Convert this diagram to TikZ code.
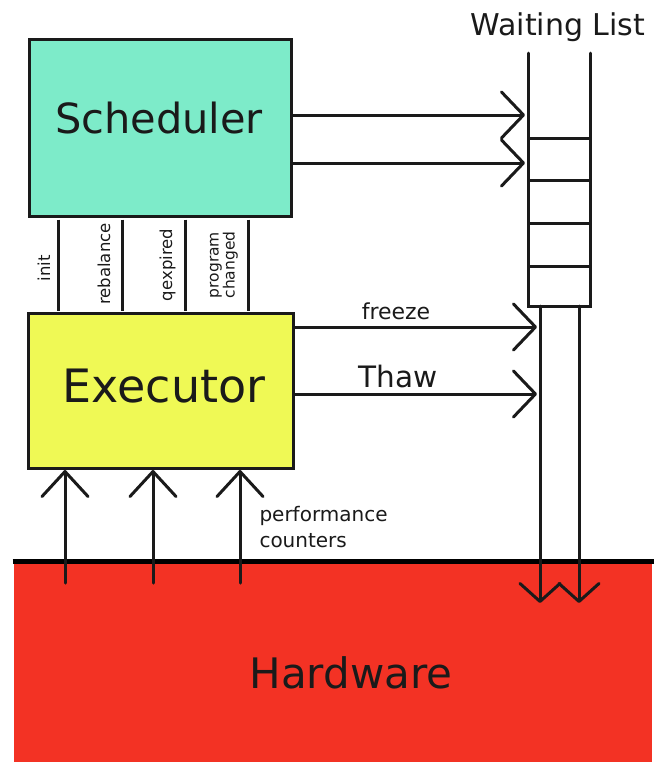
\documentclass[tikz,border=0pt]{standalone}
\usepackage{fontspec}
\setmainfont{DejaVu Sans}
\usetikzlibrary{arrows.meta}
\definecolor{schedc}{HTML}{7DEBC9}
\definecolor{execc}{HTML}{EFF955}
\definecolor{hwc}{HTML}{F33224}
\definecolor{inkc}{HTML}{1A1A1A}
\begin{document}
\begin{tikzpicture}[x=1pt,y=-1pt,line width=3pt,draw=inkc,
  box/.style={draw=inkc,line width=3pt,rectangle,inner sep=0pt},
  lbl/.style={inner sep=0pt,anchor=base,text=inkc},
  rlbl/.style={inner sep=0pt,anchor=base,rotate=90,text=inkc,font=\fontsize{16.5}{18}\selectfont},
  wire/.style={draw=inkc,line width=3pt},
  harrow/.style={wire,line cap=round,-{Straight Barb[length=22pt,width=46pt,round]}},
  uarrow/.style={wire,line cap=round,-{Straight Barb[length=25pt,width=46pt,round]}},
  darrow/.style={wire,line cap=round,-{Straight Barb[length=18pt,width=40pt,round]}}]
\useasboundingbox (0,0) rectangle (661,780);

% Hardware
\node[fill=hwc,inner sep=0pt,minimum width=638pt,minimum height=199pt] (hw) at (333,662.5) {};
\draw[line width=5pt,draw=black] (hw.north west) -- (hw.north east);
\node[lbl,font=\fontsize{42}{42}\selectfont] (hwt) at (351,688) {Hardware};

% named coordinates
\coordinate (c1) at (58,0);
\coordinate (c2) at (122,0);
\coordinate (c3) at (185,0);
\coordinate (c4) at (248,0);
\coordinate (u1) at (65,583);
\coordinate (u2) at (153,583);
\coordinate (u3) at (240,583);
\coordinate (ladL) at (528,53);
\coordinate (ladR) at (590,53);
\coordinate (ladB) at (528,306);
\coordinate (dl) at (540,306);
\coordinate (dr) at (579,306);
\coordinate (dend) at (0,603);
\coordinate (ys1) at (0,115);
\coordinate (ys2) at (0,163);
\coordinate (ye1) at (0,327);
\coordinate (ye2) at (0,394);

% boxes
\node[box,fill=schedc,minimum width=262pt,minimum height=177pt] (sched) at (160,128) {};
\node[box,fill=execc,minimum width=265pt,minimum height=155pt] (exec) at (161,391) {};
\node[lbl,font=\fontsize{41.5}{42}\selectfont] (schedt) at (159,133) {Scheduler};
\node[lbl,font=\fontsize{46}{46}\selectfont] (exect) at (164,402) {Executor};

% vertical signal lines between boxes
\foreach \c in {c1,c2,c3,c4}
  \draw[wire] ([yshift=-1.5pt]sched.south -| \c) -- ([yshift=1.5pt]exec.north -| \c);
\node[rlbl] (linit) at (50,268) {init};
\node[rlbl] (lreb) at (110,264) {rebalance};
\node[rlbl] (lqexp) at (172,265) {qexpired};
\node[inner sep=0pt,rotate=90,text=inkc,align=center,font=\fontsize{15.5}{16}\selectfont] (lprog) at (224,265) {program\\changed};

% waiting list ladder
\node[lbl,font=\fontsize{30}{30}\selectfont] (wlt) at (558,35) {Waiting List};
\draw[wire,line cap=round] (ladL) -- (ladL |- ladB) -- (ladR |- ladB) -- (ladR);
\foreach \y in {138,180,223,266}
  \draw[wire] (528,\y) -- (590,\y);

% scheduler arrows into waiting list
\draw[harrow,shorten >=3pt] (sched.east |- ys1) -- (ladL |- ys1);
\draw[harrow,shorten >=3pt] (sched.east |- ys2) -- (ladL |- ys2);

% executor arrows
\draw[harrow,shorten >=3pt] (exec.east |- ye1) -- (dl |- ye1);
\draw[harrow,shorten >=3pt] (exec.east |- ye2) -- (dl |- ye2);
\node[lbl,font=\fontsize{22}{22}\selectfont] (lfreeze) at (396,319) {freeze};
\node[lbl,font=\fontsize{29.5}{30}\selectfont] (lthaw) at (398,387) {Thaw};

% down arrows into hardware
\draw[darrow] (dl) -- (dl |- dend);
\draw[darrow] (dr) -- (dr |- dend);

% performance counter arrows
\draw[uarrow] (u1) -- (u1 |- exec.south);
\draw[uarrow] (u2) -- (u2 |- exec.south);
\draw[uarrow] (u3) -- (u3 |- exec.south);
\node[inner sep=0pt,anchor=north west,align=left,text=inkc,font=\fontsize{20}{25.5}\selectfont] (lperf) at (258,505) {performance\\counters};
\end{tikzpicture}
\end{document}
